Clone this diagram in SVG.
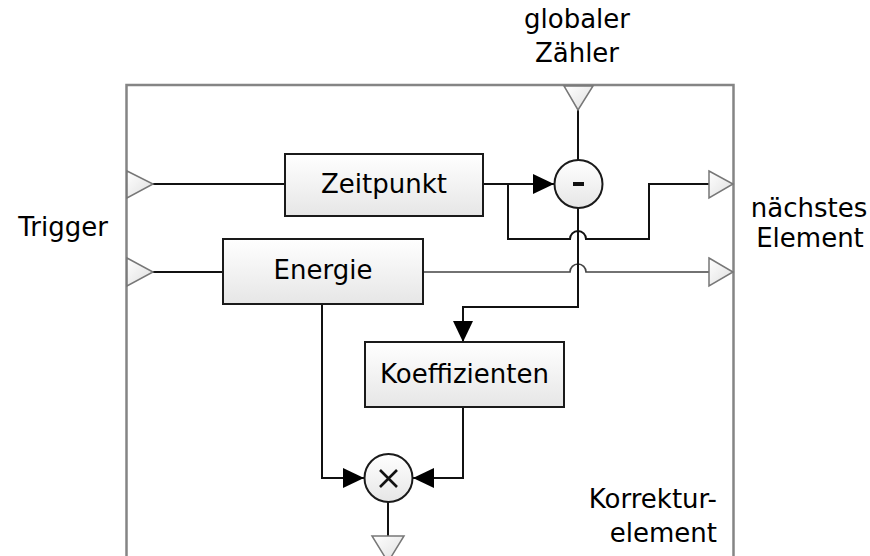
<svg xmlns="http://www.w3.org/2000/svg" width="870" height="556" viewBox="0 0 870 556">
<defs>
<linearGradient id="gBox" x1="0" y1="0" x2="0" y2="1"><stop offset="0" stop-color="#ffffff"/><stop offset="1" stop-color="#e6e6e6"/></linearGradient>
<linearGradient id="gTri" x1="0" y1="0" x2="1" y2="1"><stop offset="0" stop-color="#ffffff"/><stop offset="1" stop-color="#dedede"/></linearGradient>
<marker id="arr" markerUnits="userSpaceOnUse" markerWidth="21" markerHeight="20" refX="21" refY="10" orient="auto"><path d="M0,0 L21,10 L0,20 z" fill="#000"/></marker>
<style>
.t{font-family:"DejaVu Sans","Liberation Sans",sans-serif;font-size:26px;fill:#000}
.box{fill:url(#gBox);stroke:#1a1a1a;stroke-width:2}
.port{fill:url(#gTri);stroke:#777;stroke-width:1.5}
.c{fill:none;stroke:#111;stroke-width:2}
.c2{fill:none;stroke:#444;stroke-width:1.6}
</style>
</defs>
<rect x="126.5" y="85" width="607" height="490" fill="#fff" stroke="#858585" stroke-width="2.5"/>
<g id="connectors">
<path class="c" d="M153,184 H285"/>
<path class="c" d="M483,184 H554" marker-end="url(#arr)"/>
<path class="c" d="M508,184 V239 H570 A8,8 0 0 1 586,239 H649 V184 H709"/>
<path class="c2" d="M423,272 H570 A8,8 0 0 1 586,272 H709"/>
<path class="c" d="M578,110 V160"/>
<path class="c" d="M578,208 V307 H463 V342" marker-end="url(#arr)"/>
<path class="c" d="M153,272 H223"/>
<path class="c" d="M322,304 V478 H364" marker-end="url(#arr)"/>
<path class="c" d="M463,407 V478 H413" marker-end="url(#arr)"/>
<path class="c" d="M388,502 V536"/>
</g>
<g id="in-trigger-1"><polygon class="port" points="127,171 153,184 127,198"/></g>
<g id="in-trigger-2"><polygon class="port" points="127,258 153,272 127,286"/></g>
<g id="in-zaehler"><polygon class="port" points="564,86 593,86 578,110"/></g>
<g id="out-next-1"><polygon class="port" points="709,171 733,184 709,198"/></g>
<g id="out-next-2"><polygon class="port" points="709,258 733,272 709,286"/></g>
<g id="out-korr"><polygon class="port" points="372,536 404,536 388,562"/></g>
<g id="zeitpunkt"><rect class="box" x="285" y="154" width="198" height="62"/><text class="t" x="384" y="193" text-anchor="middle">Zeitpunkt</text></g>
<g id="energie"><rect class="box" x="223" y="239" width="200" height="65"/><text class="t" x="323" y="279" text-anchor="middle">Energie</text></g>
<g id="koeffizienten"><rect class="box" x="365" y="342" width="199" height="65"/><text class="t" x="464.5" y="383" text-anchor="middle">Koeffizienten</text></g>
<g id="minus"><circle class="box" cx="578.5" cy="184" r="24"/><rect x="573" y="182" width="11" height="4" fill="#111"/></g>
<g id="mult"><circle class="box" cx="388.5" cy="478" r="24"/><path d="M380,470 L397,487 M397,470 L380,487" stroke="#111" stroke-width="2.6"/></g>
<g id="labels">
<text class="t" x="577" y="28" text-anchor="middle">globaler</text>
<text class="t" x="577" y="62" text-anchor="middle">Zähler</text>
<text class="t" x="63" y="236" text-anchor="middle">Trigger</text>
<text class="t" x="809" y="217" text-anchor="middle">nächstes</text>
<text class="t" x="810" y="247" text-anchor="middle">Element</text>
<text class="t" x="717" y="508" text-anchor="end">Korrektur-</text>
<text class="t" x="717" y="542" text-anchor="end">element</text>
</g>
</svg>
